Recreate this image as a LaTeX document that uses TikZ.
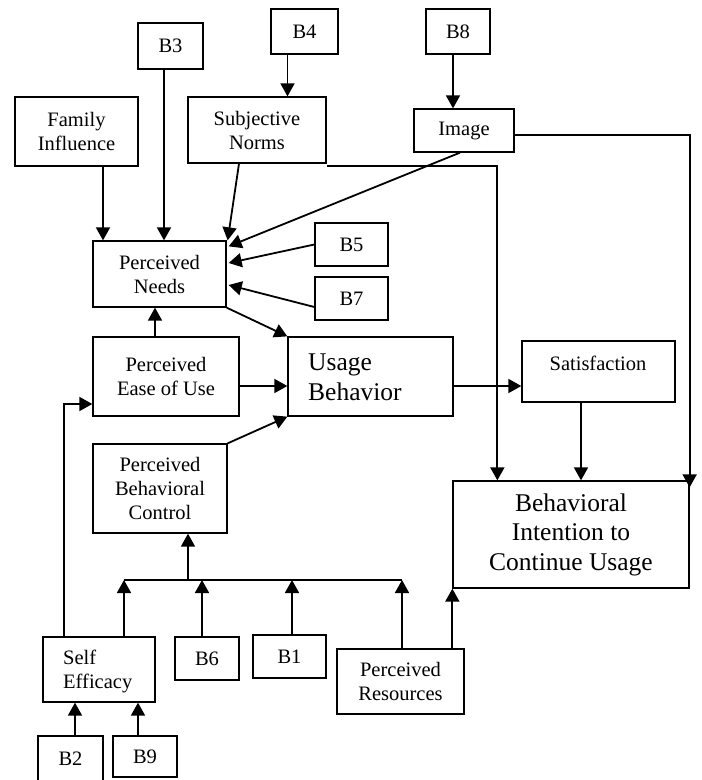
\documentclass[tikz,border=0pt]{standalone}
\usepackage{fontspec}
\setmainfont{Liberation Serif}
\usetikzlibrary{arrows.meta,calc}
\tikzset{
 box/.style={draw, line width=1.3pt, inner sep=0pt, align=center, font=\fontsize{20.5}{24}\selectfont},
 bigbox/.style={box, font=\fontsize{25.5}{29.5}\selectfont},
 arr/.style={line width=1.8pt, -{Triangle[length=13pt,width=14pt]}},
 ln/.style={line width=1.8pt},
 lbl/.style={inner sep=0pt, align=left, font=\fontsize{20.5}{24}\selectfont},
 biglbl/.style={lbl, font=\fontsize{25.5}{29.5}\selectfont}
}
\begin{document}
\begin{tikzpicture}[x=1pt,y=-1pt]
\useasboundingbox (0,0) rectangle (702,780);
% boxes
\node[box, minimum width=123pt, minimum height=69pt] (fam) at (76.5,131.5) {Family\\Influence};
\node[box, minimum width=65pt, minimum height=46pt] (b3) at (170.5,46) {B3};
\node[box, minimum width=67pt, minimum height=45pt] (b4) at (304.5,31.5) {B4};
\node[box, minimum width=138pt, minimum height=66pt] (sn) at (257,130) {Subjective\\Norms};
\node[box, minimum width=64pt, minimum height=45pt] (b8) at (458,31.5) {B8};
\node[box, minimum width=100pt, minimum height=43pt] (img) at (464,130.5) {Image};
\node[box, minimum width=133pt, minimum height=66pt] (pn) at (159.5,274) {Perceived\\Needs};
\node[box, minimum width=73pt, minimum height=43pt] (b5) at (351.5,244.5) {B5};
\node[box, minimum width=73pt, minimum height=43pt] (b7) at (351.5,298.5) {B7};
\node[box, minimum width=146pt, minimum height=79pt] (peu) at (166,376.5) {Perceived\\Ease of Use};
\node[box, minimum width=165pt, minimum height=79pt] (usage) at (370.5,376.5) {};
\node[biglbl, anchor=west] (usageT) at (308,377.5) {Usage\\Behavior};
\node[box, minimum width=153pt, minimum height=61pt] (sat) at (598.5,371.5) {};
\node[lbl, anchor=base] (satT) at (598,370.5) {Satisfaction};
\node[box, minimum width=134pt, minimum height=89pt] (pbc) at (160,488.5) {Perceived\\Behavioral\\Control};
\node[bigbox, minimum width=236pt, minimum height=107pt] (bi) at (571,534.5) {Behavioral\\Intention to\\Continue Usage};
\node[box, minimum width=112pt, minimum height=65pt] (se) at (99,669.5) {};
\node[lbl, anchor=west] (seT) at (63,671) {Self\\Efficacy};
\node[box, minimum width=64pt, minimum height=43pt] (b6) at (207,658.5) {B6};
\node[box, minimum width=73pt, minimum height=43pt] (b1) at (289.5,656.5) {B1};
\node[box, minimum width=127pt, minimum height=65pt] (pr) at (400.5,681.5) {Perceived\\Resources};
\node[box, minimum width=65pt, minimum height=46pt] (b2) at (70.5,759) {B2};
\node[box, minimum width=64pt, minimum height=41pt] (b9) at (145,756.5) {B9};
% helper coordinates
\coordinate (famA) at ($(fam.south)+(26.5,0)$);
\coordinate (b3A) at ($(b3.south)+(-6.5,0)$);
\coordinate (b4A) at ($(b4.south)+(-17,0)$);
\coordinate (snA) at ($(sn.south)+(-18,0)$);
\coordinate (pnSN) at ($(pn.north east)+(1,0)$);
\coordinate (imgA) at ($(img.south)+(-4,0)$);
\coordinate (imgB) at ($(img.east)+(0,4.5)$);
\coordinate (pnImg) at ($(pn.north east)+(2,6)$);
\coordinate (pnB5) at ($(pn.east)+(2,-11)$);
\coordinate (pnB7) at ($(pn.east)+(2,11)$);
\coordinate (b7A) at ($(b7.west)+(0,8.5)$);
\coordinate (b8A) at ($(b8.south)+(-5,0)$);
\coordinate (peuA) at ($(peu.north)+(-11,0)$);
\coordinate (peuB) at ($(peu.east)+(0,9.5)$);
\coordinate (peuC) at ($(peu.west)+(0,27.5)$);
\coordinate (seL) at ($(se.north)+(-35,0)$);
\coordinate (seR) at ($(se.north)+(25,0)$);
\coordinate (barL) at (124,580);
\coordinate (barR) at (402,580);
\coordinate (pbcA) at ($(pbc.south)+(28,0)$);
\coordinate (b6A) at ($(b6.north)+(-5,0)$);
\coordinate (b1A) at ($(b1.north)+(2.5,0)$);
\coordinate (prA) at ($(pr.north)+(1.5,0)$);
\coordinate (satA) at ($(sat.south)+(-17.5,0)$);
\coordinate (biSN) at ($(bi.north west)+(45,0)$);
\coordinate (snB) at ($(sn.south east)+(0,2)$);
\coordinate (b2A) at ($(b2.north)+(4.5,0)$);
\coordinate (b9A) at ($(b9.north)+(-7,0)$);
% connectors
\draw[arr] (famA) -- (famA |- pn.north);
\draw[arr] (b3A) -- (b3A |- pn.north);
\draw[arr] (b4A) -- (b4A |- sn.north);
\draw[arr] (snA) -- (pnSN);
\draw[arr] (b8A) -- (b8A |- img.north);
\draw[arr] (imgA) -- (pnImg);
\draw[arr] (b5.west) -- (pnB5);
\draw[arr] (b7A) -- (pnB7);
\draw[arr] (pn.south east) -- (usage.north west);
\draw[arr] (peuA) -- (peuA |- pn.south);
\draw[arr] (peuB) -- (peuB -| usage.west);
\draw[arr] (pbc.north east) -- (usage.south west);
\draw[arr] (peuB -| usage.east) -- (peuB -| sat.west);
\draw[arr] (satA) -- (satA |- bi.north);
\draw[arr] (snB) -| (biSN);
\draw[arr, shorten >=-7pt] (imgB) -| (bi.north east);
\draw[arr] (seL) |- (peuC);
\draw[ln] (barL) -- (barR);
\draw[arr] (seR) -- (barL);
\draw[arr] (b6A) -- (b6A |- barL);
\draw[arr] (b1A) -- (b1A |- barL);
\draw[arr] (prA) -- (prA |- barL);
\draw[arr] (pbcA |- barL) -- (pbcA);
\draw[arr] (pr.north -| bi.south west) -- (bi.south west);
\draw[arr] (b2A) -- (b2A |- se.south);
\draw[arr] (b9A) -- (b9A |- se.south);
\end{tikzpicture}
\end{document}
